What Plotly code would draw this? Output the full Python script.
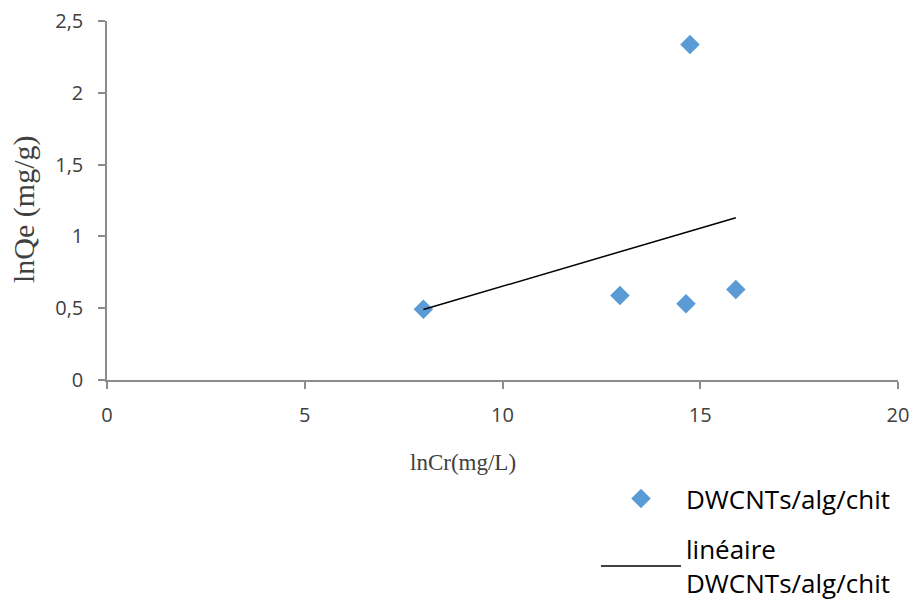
import numpy as np
import plotly.graph_objects as go

ln_cr = [8.0, 12.97, 14.64, 15.90, 14.74]
ln_qe = [0.492, 0.589, 0.531, 0.631, 2.336]
x_ticks = [0, 5, 10, 15, 20]
y_ticks = [0, 0.5, 1, 1.5, 2, 2.5]

slope, intercept = np.polyfit(ln_cr, ln_qe, 1)
fit_x = [min(ln_cr), max(ln_cr)]
fit_y = [slope * v + intercept for v in fit_x]

fig = go.Figure()
fig.add_trace(go.Scatter(
    x=ln_cr, y=ln_qe, mode="markers", name="DWCNTs/alg/chit", legendgroup="a",
    marker=dict(symbol="diamond", size=15, color="#5B9BD5"),
))
fig.add_trace(go.Scatter(
    x=fit_x, y=fit_y, mode="lines", name="linéaire<br>DWCNTs/alg/chit", legendgroup="b",
    line=dict(color="black", width=1.5),
))

axis_common = dict(
    showgrid=False, zeroline=False, showline=True, linecolor="#8c8c8c",
    linewidth=1.5, ticks="outside", ticklen=7, tickcolor="#8c8c8c",
    tickwidth=1.5, ticklabeloverflow="allow", automargin=False,
    tickfont=dict(family="Open Sans", size=20, color="#404040"),
)
# page body has an 8px margin; compensate so the plot area sits where the reference has it
fig.update_layout(
    width=913, height=599,
    margin=dict(l=99, r=23, t=13, b=227),
    paper_bgcolor="white", plot_bgcolor="white",
    separators=", ",
    showlegend=True,
    legend=dict(
        xref="paper", yref="container",
        x=(596 - 107) / 791, y=1 - (475 - 8) / 599, xanchor="left", yanchor="top",
        font=dict(family="Open Sans", size=26, color="#000000"),
        itemwidth=80, tracegroupgap=14, traceorder="grouped",
    ),
    xaxis=dict(range=[0, 20], tickvals=x_ticks, ticklabelstandoff=9, **axis_common),
    yaxis=dict(range=[0, 2.5001], tickvals=y_ticks, ticklabelstandoff=11, **axis_common),
    annotations=[
        dict(text="lnCr(mg/L)", xref="paper", yref="paper", x=(463 - 107) / 791,
             y=(380 - 462) / 359, xanchor="center", yanchor="middle", showarrow=False,
             font=dict(family="Liberation Serif", size=23, color="#404040")),
        dict(text="lnQe (mg/g)", xref="paper", yref="paper", x=(24 - 107) / 791,
             y=(380 - 210) / 359, xanchor="center", yanchor="middle", showarrow=False,
             textangle=-90,
             font=dict(family="Liberation Serif", size=30, color="#404040")),
    ],
)

fig.write_html("out.html")
